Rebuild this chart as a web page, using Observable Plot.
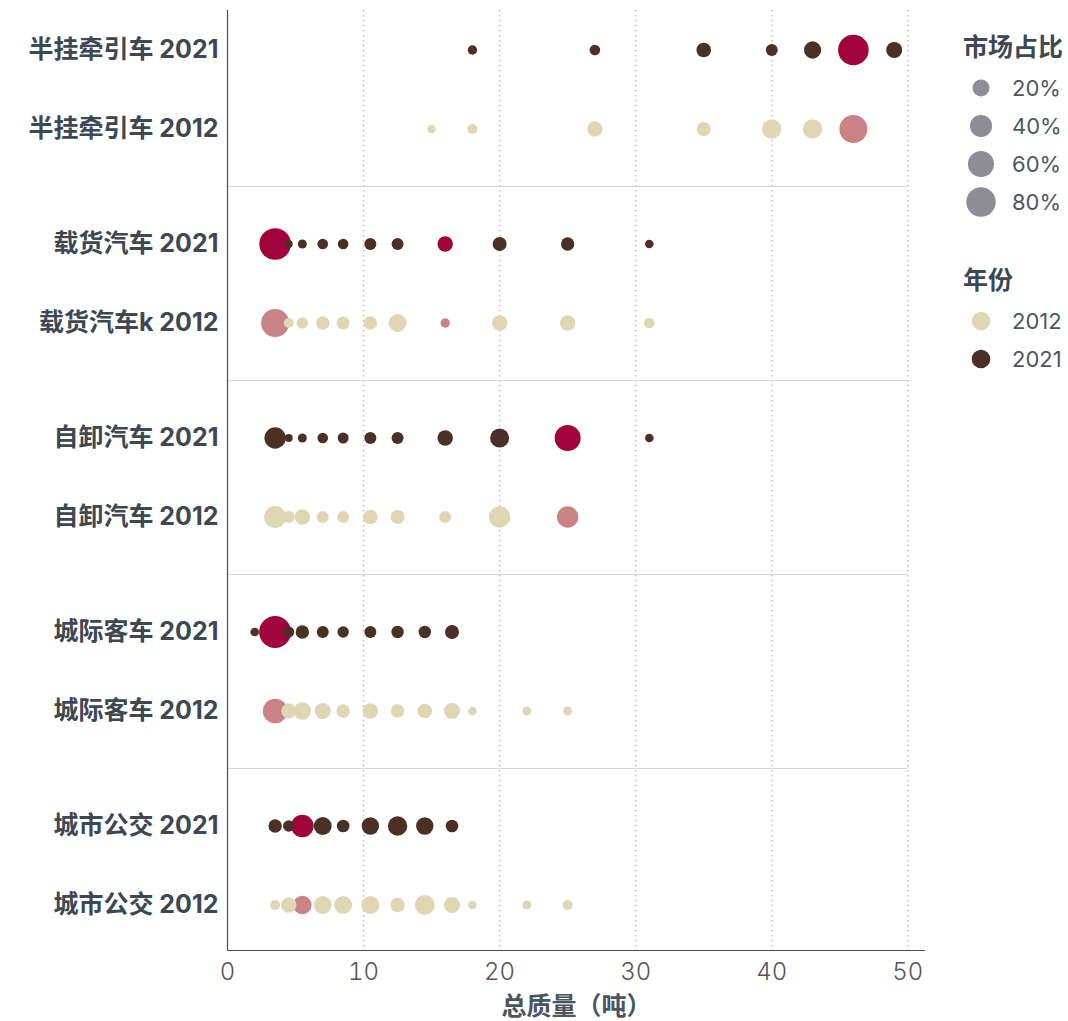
<!DOCTYPE html>
<html>
<head>
<meta charset="utf-8">
<script src="https://cdn.jsdelivr.net/npm/d3@7"></script>
<script src="https://cdn.jsdelivr.net/npm/@observablehq/plot@0.6"></script>
<style>
  body { margin: 0; background: #fff; font-family: Inter, "Noto Sans CJK SC", sans-serif; }
  #wrap { position: relative; width: 1068px; height: 1021px; overflow: hidden; }
  #chart { position: absolute; left: 0; top: 0; }
  #legend { position: absolute; left: 940px; top: 0; }
</style>
</head>
<body>
<div id="wrap"><div id="chart"></div><svg id="legend" width="128" height="400"></svg></div>
<script>
// ---------- data ----------
const types = ["半挂牵引车", "载货汽车", "自卸汽车", "城际客车", "城市公交"];
const rowLabels2021 = ["半挂牵引车 2021", "载货汽车 2021", "自卸汽车 2021", "城际客车 2021", "城市公交 2021"];
const rowLabels2012 = ["半挂牵引车 2012", "载货汽车k 2012", "自卸汽车 2012", "城际客车 2012", "城市公交 2012"];
const xTicks = [0, 10, 20, 30, 40, 50];
const sizeLegendValues = [20, 40, 60, 80];
const yearLegend = ["2012", "2021"];

// total mass (t), market share (%), highlighted masses
const semi2021Mass  = [18, 27, 35, 40, 43, 46, 49];
const semi2021Share = [3, 4.7, 13, 7, 21, 88, 17];
const semi2021Hi    = [46];
const semi2012Mass  = [15, 18, 27, 35, 40, 43, 46];
const semi2012Share = [2, 3.8, 15, 11.5, 28.5, 28.5, 71];
const semi2012Hi    = [46];

const cargo2021Mass  = [3.5, 4.5, 5.5, 7, 8.5, 10.5, 12.5, 16, 20, 25, 31];
const cargo2021Share = [95, 1.5, 2.5, 4.7, 4.7, 7.1, 7.1, 15.2, 11.5, 10, 2.1];
const cargo2021Hi    = [3.5, 16];
const cargo2012Mass  = [3.5, 4.5, 5.5, 7, 8.5, 10.5, 12.5, 16, 20, 25, 31];
const cargo2012Share = [71, 3.8, 6, 10, 9.2, 10, 23.3, 3, 15.2, 15.2, 4.7];
const cargo2012Hi    = [3.5, 16];

const dump2021Mass  = [3.5, 4.5, 5.5, 7, 8.5, 10.5, 12.5, 16, 20, 25, 31];
const dump2021Share = [36.7, 1.5, 2.5, 4.7, 5.3, 7.1, 7.1, 15.2, 27, 59.5, 2.1];
const dump2021Hi    = [25];
const dump2012Mass  = [3.5, 4.5, 5.5, 7, 8.5, 10.5, 12.5, 16, 20, 25];
const dump2012Share = [39.3, 7.1, 15.2, 7.1, 7.1, 13, 11.5, 7.1, 36.7, 36.7];
const dump2012Hi    = [25];

const coach2021Mass  = [2, 3.5, 4.5, 5.5, 7, 8.5, 10.5, 12.5, 14.5, 16.5];
const coach2021Share = [2.1, 97.6, 5.3, 10.1, 7.1, 6, 7.1, 7.9, 7.9, 11.5];
const coach2021Hi    = [3.5];
const coach2012Mass  = [3.5, 4.5, 5.5, 7, 8.5, 10.5, 12.5, 14.5, 16.5, 18, 22, 25];
const coach2012Share = [52, 14.1, 21.3, 16.9, 10.1, 15.2, 10.1, 13, 16.9, 2.1, 2.5, 2.5];
const coach2012Hi    = [3.5];

const bus2021Mass  = [3.5, 4.5, 5.5, 7, 8.5, 10.5, 12.5, 14.5, 16.5];
const bus2021Share = [10.1, 6, 42.1, 23.3, 8.3, 21.3, 28.5, 21.3, 8.3];
const bus2021Hi    = [5.5];
const bus2012Mass  = [3.5, 4.5, 5.5, 7, 8.5, 10.5, 12.5, 14.5, 16.5, 18, 22, 25];
const bus2012Share = [3.8, 15.2, 25.5, 23.3, 23.3, 23.3, 13, 30.8, 16.9, 2.1, 2.5, 3.8];
const bus2012Hi    = [5.5];

// ---------- build table ----------
const series = [
  [types[0], "2021", semi2021Mass, semi2021Share, semi2021Hi],
  [types[0], "2012", semi2012Mass, semi2012Share, semi2012Hi],
  [types[1], "2021", cargo2021Mass, cargo2021Share, cargo2021Hi],
  [types[1], "2012", cargo2012Mass, cargo2012Share, cargo2012Hi],
  [types[2], "2021", dump2021Mass, dump2021Share, dump2021Hi],
  [types[2], "2012", dump2012Mass, dump2012Share, dump2012Hi],
  [types[3], "2021", coach2021Mass, coach2021Share, coach2021Hi],
  [types[3], "2012", coach2012Mass, coach2012Share, coach2012Hi],
  [types[4], "2021", bus2021Mass, bus2021Share, bus2021Hi],
  [types[4], "2012", bus2012Mass, bus2012Share, bus2012Hi]
];
const points = series.flatMap(([type, year, mass, share, hi]) =>
  mass.map((m, i) => ({type, year, mass: m, share: share[i], hi: hi.includes(m)}))
).sort((a, b) => a.hi - b.hi);
const pts2021 = points.filter(d => d.year === "2021");
const pts2012 = points.filter(d => d.year === "2012");
const labels2021 = types.map((t, i) => ({type: t, label: rowLabels2021[i]}));
const labels2012 = types.map((t, i) => ({type: t, label: rowLabels2012[i]}));

// ---------- style ----------
const C = {beige: "#dfd6b4", brown: "#4b3026", pink: "#c98286", crimson: "#a0043b",
           ink: "#3d4852", axis: "#47515b", grid: "#bdbdbd", sep: "#d6d6d6", legendDot: "#8e8d96"};
const FONT = 'Inter, "Noto Sans CJK SC", sans-serif';
const rowOffset = 39.5;
const yRange = [89, 865];
const halfStep = (yRange[1] - yRange[0]) / (types.length - 1) / 2;
const H = 1021, MT = 10, MB = 71;
const plotBottom = H - MB;
const axisLabel = "总质量（吨）";
const xFirst = xTicks[0], xLast = xTicks[xTicks.length - 1];

const plot = Plot.plot({
  width: 940,
  height: H,
  marginLeft: 227,
  marginRight: 15,
  marginTop: MT,
  marginBottom: MB,
  style: {fontFamily: FONT, color: C.ink, background: "#fff"},
  x: {domain: [0, 51.3], axis: null},
  y: {type: "point", domain: types, range: yRange, padding: 0, axis: null},
  r: {type: "sqrt", domain: [0, 100], range: [2.3, 16.17]},
  color: {domain: ["2012", "2021", "2012h", "2021h"], range: [C.beige, C.brown, C.pink, C.crimson]},
  marks: [
    Plot.ruleX(xTicks.slice(1), {stroke: C.grid, strokeWidth: 1.5, strokeDasharray: "1.5,3.5"}),
    Plot.ruleY(types.slice(0, -1), {y: d => d, x1: () => xFirst, x2: () => xLast, dy: halfStep,
      stroke: C.sep, strokeWidth: 1, ariaLabel: "separator"}),
    Plot.ruleX([0], {stroke: C.axis, strokeWidth: 1.2}),
    Plot.ruleY([types[types.length - 1]], {dy: plotBottom - yRange[1], stroke: C.axis, strokeWidth: 1.2}),
    Plot.dot(pts2021, {x: "mass", y: "type", r: "share", fill: d => d.year + (d.hi ? "h" : ""), dy: -rowOffset}),
    Plot.dot(pts2012, {x: "mass", y: "type", r: "share", fill: d => d.year + (d.hi ? "h" : ""), dy: rowOffset}),
    Plot.text(labels2021, {y: "type", text: "label", dy: -rowOffset, frameAnchor: "left", textAnchor: "end", dx: -9,
      fontSize: 25, fontWeight: 700, fill: C.ink}),
    Plot.text(labels2012, {y: "type", text: "label", dy: rowOffset, frameAnchor: "left", textAnchor: "end", dx: -9,
      fontSize: 25, fontWeight: 700, fill: C.ink}),
    Plot.axisX({ticks: xTicks, tickSize: 0, tickPadding: 12, fontSize: 24, fontWeight: 300, fill: "#555",
      label: axisLabel, labelAnchor: "center", labelArrow: "none", labelOffset: 64})
  ]
});
document.getElementById("chart").append(plot);

// separators extend into the left margin as in the reference
d3.select(plot).selectAll('g[aria-label="separator"] line').attr("x1", 10);
// axis label style
d3.select(plot).selectAll('g[aria-label="x-axis label"] text')
  .text(axisLabel)
  .attr("font-size", 25).attr("font-weight", 700).attr("fill", "#4a5560");

// ---------- legend (sizes & colours from the plot's own scales) ----------
const rs = plot.scale("r"), cs = plot.scale("color");
const lg = d3.select("#legend").attr("font-family", FONT);
lg.append("text").attr("x", 23).attr("y", 47).attr("dy", "0.35em").attr("font-size", 25)
  .attr("font-weight", 700).attr("fill", C.ink).text("市场占比");
sizeLegendValues.forEach((v, i) => {
  const cy = 88 + i * 38;
  lg.append("circle").attr("cx", 41).attr("cy", cy).attr("r", rs.apply(v)).attr("fill", C.legendDot);
  lg.append("text").attr("x", 72).attr("y", cy).attr("dy", "0.35em").attr("font-size", 22)
    .attr("fill", "#4b5862").text(v + "%");
});
lg.append("text").attr("x", 23).attr("y", 280).attr("dy", "0.35em").attr("font-size", 25)
  .attr("font-weight", 700).attr("fill", C.ink).text("年份");
yearLegend.forEach((yv, i) => {
  const cy = 321 + i * 38;
  lg.append("circle").attr("cx", 41).attr("cy", cy).attr("r", 9.3).attr("fill", cs.apply(yv));
  lg.append("text").attr("x", 72).attr("y", cy).attr("dy", "0.35em").attr("font-size", 22)
    .attr("fill", "#4b5862").text(yv);
});
</script>
</body>
</html>
